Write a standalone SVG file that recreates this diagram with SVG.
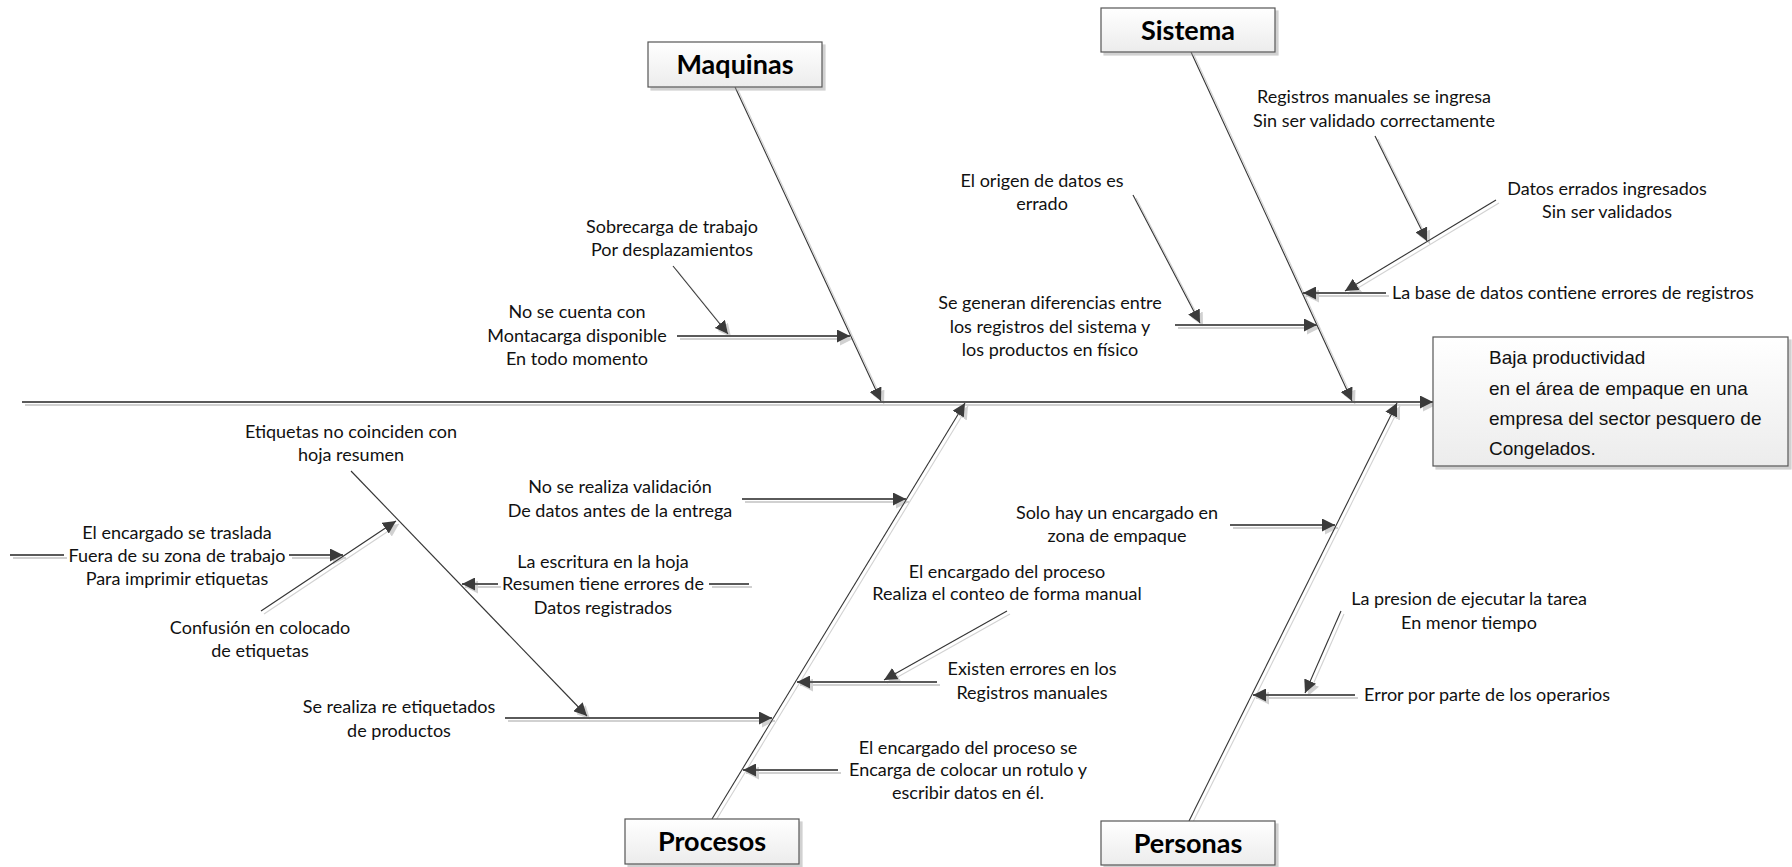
<svg xmlns="http://www.w3.org/2000/svg" width="1792" height="867" viewBox="0 0 1792 867">
<defs>
<linearGradient id="bg" x1="0" y1="0" x2="0" y2="1">
<stop offset="0" stop-color="#ffffff"/>
<stop offset="1" stop-color="#ececec"/>
</linearGradient>
<filter id="sh" x="-10%" y="-10%" width="130%" height="130%">
<feDropShadow dx="3" dy="3" stdDeviation="0.7" flood-color="#9a9a9a" flood-opacity="0.45"/>
</filter>
<marker id="ah" markerUnits="userSpaceOnUse" markerWidth="14" markerHeight="13" refX="13" refY="6.5" orient="auto" viewBox="0 0 14 13">
<path d="M0,0 L13,6.5 L0,13 z" fill="#3a3a3a"/>
</marker>
<style>
.box{fill:url(#bg);stroke:#555;stroke-width:1.2}
.lbl{font-family:Lato,"Liberation Sans",sans-serif;font-weight:bold;font-size:27px;fill:#000;text-anchor:middle}
.t{font-family:Lato,"Liberation Sans",sans-serif;font-size:18px;fill:#111;text-anchor:middle}
.ts{font-family:Lato,"Liberation Sans",sans-serif;font-size:18px;fill:#111;text-anchor:start}
.eff{font-family:"Liberation Sans",Arial,sans-serif;font-size:19px;fill:#111}
.bone{stroke:#333;stroke-width:1.1;fill:none}
.sub{stroke:#5a5a5a;stroke-width:1.8;fill:none}
.sp{stroke:#5a5a5a;stroke-width:2;fill:none}
.ar{marker-end:url(#ah)}
</style>
</defs>
<rect width="1792" height="867" fill="#fff"/>

<g id="connectors" filter="url(#sh)">
<line class="sp ar" x1="22" y1="402" x2="1433" y2="402"/>
<line class="bone ar" x1="735" y1="87" x2="881" y2="401"/>
<line class="bone ar" x1="1191" y1="52" x2="1352" y2="401"/>
<line class="bone ar" x1="712" y1="819" x2="965" y2="403"/>
<line class="bone ar" x1="1189" y1="821" x2="1397" y2="403"/>
<line class="sub ar" x1="677" y1="336" x2="850" y2="336"/>
<line class="bone ar" x1="673" y1="266" x2="728" y2="334"/>
<line class="sub ar" x1="1386" y1="293" x2="1303" y2="293"/>
<line class="bone ar" x1="1496" y1="200" x2="1345" y2="291"/>
<line class="bone ar" x1="1375" y1="136" x2="1427" y2="241"/>
<line class="sub ar" x1="1175" y1="325" x2="1317" y2="325"/>
<line class="bone ar" x1="1133" y1="195" x2="1200" y2="323"/>
<line class="sub ar" x1="742" y1="499" x2="906" y2="499"/>
<line class="sub ar" x1="937" y1="682" x2="797" y2="682"/>
<line class="bone ar" x1="1007" y1="611" x2="884" y2="680"/>
<line class="sub ar" x1="838" y1="770" x2="743" y2="770"/>
<line class="sub ar" x1="505" y1="718" x2="772" y2="718"/>
<line class="bone ar" x1="351" y1="471" x2="587" y2="716"/>
<line class="sub" x1="749" y1="584" x2="709" y2="584"/>
<line class="sub ar" x1="498" y1="584" x2="462" y2="584"/>
<line class="bone ar" x1="261" y1="611" x2="396" y2="521"/>
<line class="sub" x1="10" y1="555" x2="64" y2="555"/>
<line class="sub ar" x1="289" y1="555" x2="343" y2="555"/>
<line class="sub ar" x1="1230" y1="525" x2="1335" y2="525"/>
<line class="sub ar" x1="1355" y1="695" x2="1253" y2="695"/>
<line class="bone ar" x1="1341" y1="611" x2="1305" y2="693"/>
</g>

<g id="maquinas">
<rect class="box" x="648" y="42" width="174" height="45" filter="url(#sh)"/>
<text class="lbl" x="735" y="74">Maquinas</text>
</g>
<g id="sistema">
<rect class="box" x="1101" y="8" width="174" height="44" filter="url(#sh)"/>
<text class="lbl" x="1188" y="39.5">Sistema</text>
</g>
<g id="procesos">
<rect class="box" x="625" y="819" width="174" height="45" filter="url(#sh)"/>
<text class="lbl" x="712" y="851">Procesos</text>
</g>
<g id="personas">
<rect class="box" x="1101" y="821" width="174" height="44" filter="url(#sh)"/>
<text class="lbl" x="1188" y="852.5">Personas</text>
</g>
<g id="efecto">
<rect class="box" x="1433" y="337" width="355" height="129" filter="url(#sh)"/>
<text class="eff" x="1489"><tspan x="1489" y="364">Baja productividad</tspan><tspan x="1489" y="395">en el área de empaque en una</tspan><tspan x="1489" y="425">empresa del sector pesquero de</tspan><tspan x="1489" y="455">Congelados.</tspan></text>
</g>

<g id="causa-maquinas">
<text class="t"><tspan x="672" y="233">Sobrecarga de trabajo</tspan><tspan x="672" y="256">Por desplazamientos</tspan></text>
<text class="t"><tspan x="577" y="318">No se cuenta con</tspan><tspan x="577" y="342">Montacarga disponible</tspan><tspan x="577" y="365">En todo momento</tspan></text>
</g>
<g id="causa-sistema">
<text class="t"><tspan x="1374" y="103">Registros manuales se ingresa</tspan><tspan x="1374" y="127">Sin ser  validado correctamente</tspan></text>
<text class="t"><tspan x="1607" y="195">Datos errados ingresados</tspan><tspan x="1607" y="218">Sin ser validados</tspan></text>
<text class="ts" x="1392" y="299">La base de datos contiene errores de registros</text>
<text class="t"><tspan x="1042" y="187">El origen de datos es</tspan><tspan x="1042" y="210">errado</tspan></text>
<text class="t"><tspan x="1050" y="309">Se generan diferencias entre</tspan><tspan x="1050" y="333">los registros del sistema y</tspan><tspan x="1050" y="356">los productos en físico</tspan></text>
</g>
<g id="causa-procesos">
<text class="t"><tspan x="351" y="438">Etiquetas no coinciden con</tspan><tspan x="351" y="461">hoja resumen</tspan></text>
<text class="t"><tspan x="620" y="493">No se realiza validación</tspan><tspan x="620" y="517">De datos antes de la entrega</tspan></text>
<text class="t"><tspan x="177" y="539">El encargado se traslada</tspan><tspan x="177" y="562">Fuera de su zona de trabajo</tspan><tspan x="177" y="585">Para imprimir etiquetas</tspan></text>
<text class="t"><tspan x="603" y="568">La escritura en la hoja</tspan><tspan x="603" y="590">Resumen tiene errores de</tspan><tspan x="603" y="614">Datos registrados</tspan></text>
<text class="t"><tspan x="260" y="634">Confusión en colocado</tspan><tspan x="260" y="657">de etiquetas</tspan></text>
<text class="t"><tspan x="1007" y="578">El encargado del proceso</tspan><tspan x="1007" y="600">Realiza el conteo de forma manual</tspan></text>
<text class="t"><tspan x="1032" y="675">Existen errores en los</tspan><tspan x="1032" y="699">Registros manuales</tspan></text>
<text class="t"><tspan x="399" y="713">Se realiza re etiquetados</tspan><tspan x="399" y="737">de productos</tspan></text>
<text class="t"><tspan x="968" y="754">El encargado del proceso se</tspan><tspan x="968" y="776">Encarga de colocar un rotulo y</tspan><tspan x="968" y="799">escribir datos en él.</tspan></text>
</g>
<g id="causa-personas">
<text class="t"><tspan x="1117" y="519">Solo hay un encargado en</tspan><tspan x="1117" y="542">zona de empaque</tspan></text>
<text class="t"><tspan x="1469" y="605">La presion de ejecutar la tarea</tspan><tspan x="1469" y="629">En menor tiempo</tspan></text>
<text class="ts" x="1364" y="701">Error por parte de los operarios</text>
</g>
</svg>
